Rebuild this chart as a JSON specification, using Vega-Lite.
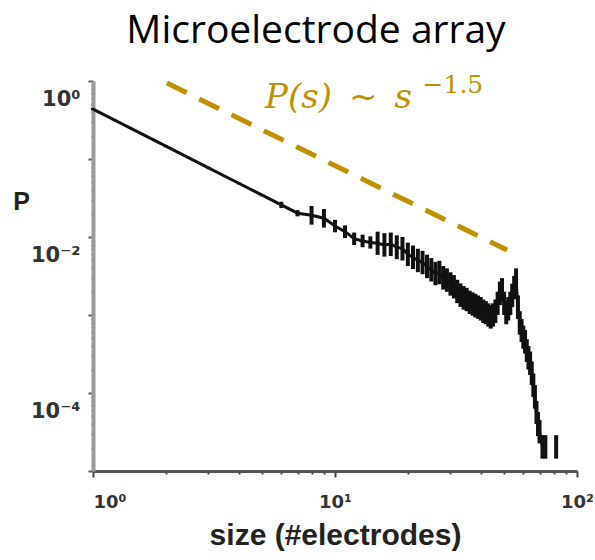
{
  "$schema": "https://vega.github.io/schema/vega-lite/v6.json",
  "width": 484,
  "height": 390,
  "autosize": "none",
  "padding": {"left": 93, "top": 81, "right": 18, "bottom": 89},
  "background": "white",
  "title": {
    "text": "Microelectrode array",
    "font": "Open Sans",
    "fontSize": 39,
    "fontWeight": "normal",
    "color": "#000000",
    "offset": 22,
    "dx": -19
  },
  "config": {
    "view": {"stroke": null}
  },
  "datasets": {
    "pdist": [
      {"s": 1, "P": 0.437, "lo": 0.422, "hi": 0.452},
      {"s": 2, "P": 0.146, "lo": 0.141, "hi": 0.151},
      {"s": 3, "P": 0.0769, "lo": 0.0743, "hi": 0.0796},
      {"s": 4, "P": 0.0489, "lo": 0.0472, "hi": 0.0506},
      {"s": 5, "P": 0.0344, "lo": 0.0332, "hi": 0.0356},
      {"s": 6, "P": 0.0258, "lo": 0.0235, "hi": 0.0283},
      {"s": 7, "P": 0.0202, "lo": 0.0184, "hi": 0.0221},
      {"s": 8, "P": 0.019, "lo": 0.0144, "hi": 0.025},
      {"s": 9, "P": 0.0174, "lo": 0.0132, "hi": 0.0229},
      {"s": 10, "P": 0.0138, "lo": 0.0115, "hi": 0.0166},
      {"s": 11, "P": 0.0117, "lo": 0.0097, "hi": 0.0141},
      {"s": 12, "P": 0.0095, "lo": 0.0079, "hi": 0.0114},
      {"s": 13, "P": 0.0089, "lo": 0.0074, "hi": 0.0107},
      {"s": 14, "P": 0.0085, "lo": 0.0071, "hi": 0.0102},
      {"s": 15, "P": 0.0083, "lo": 0.0059, "hi": 0.0117},
      {"s": 16, "P": 0.0079, "lo": 0.0056, "hi": 0.0112},
      {"s": 17, "P": 0.0081, "lo": 0.0057, "hi": 0.0114},
      {"s": 18, "P": 0.0074, "lo": 0.0052, "hi": 0.0105},
      {"s": 19, "P": 0.0071, "lo": 0.005, "hi": 0.01},
      {"s": 20, "P": 0.006, "lo": 0.00424, "hi": 0.00848},
      {"s": 21, "P": 0.0055, "lo": 0.00389, "hi": 0.00777},
      {"s": 22, "P": 0.005, "lo": 0.00354, "hi": 0.00707},
      {"s": 23, "P": 0.0047, "lo": 0.00333, "hi": 0.00664},
      {"s": 24, "P": 0.0042, "lo": 0.00297, "hi": 0.00593},
      {"s": 25, "P": 0.0038, "lo": 0.00269, "hi": 0.00537},
      {"s": 26, "P": 0.0034, "lo": 0.00241, "hi": 0.0048},
      {"s": 27, "P": 0.0035, "lo": 0.00248, "hi": 0.00495},
      {"s": 28, "P": 0.003, "lo": 0.00212, "hi": 0.00424},
      {"s": 29, "P": 0.0028, "lo": 0.00198, "hi": 0.00396},
      {"s": 30, "P": 0.0025, "lo": 0.00177, "hi": 0.00353},
      {"s": 31, "P": 0.0023, "lo": 0.00163, "hi": 0.00325},
      {"s": 32, "P": 0.002, "lo": 0.00142, "hi": 0.00283},
      {"s": 33, "P": 0.0018, "lo": 0.00127, "hi": 0.00254},
      {"s": 34, "P": 0.00166, "lo": 0.00117, "hi": 0.00235},
      {"s": 35, "P": 0.00158, "lo": 0.00112, "hi": 0.00223},
      {"s": 36, "P": 0.00145, "lo": 0.00103, "hi": 0.00205},
      {"s": 37, "P": 0.00138, "lo": 0.00098, "hi": 0.00195},
      {"s": 38, "P": 0.00132, "lo": 0.00093, "hi": 0.00187},
      {"s": 39, "P": 0.00126, "lo": 0.00089, "hi": 0.00178},
      {"s": 40, "P": 0.0012, "lo": 0.00085, "hi": 0.0017},
      {"s": 41, "P": 0.00112, "lo": 0.00079, "hi": 0.00158},
      {"s": 42, "P": 0.00107, "lo": 0.00076, "hi": 0.00151},
      {"s": 43, "P": 0.001, "lo": 0.00071, "hi": 0.00141},
      {"s": 44, "P": 0.00095, "lo": 0.00067, "hi": 0.00134},
      {"s": 45, "P": 0.001, "lo": 0.00071, "hi": 0.00141},
      {"s": 46, "P": 0.00112, "lo": 0.00079, "hi": 0.00158},
      {"s": 47, "P": 0.00141, "lo": 0.001, "hi": 0.00199},
      {"s": 48, "P": 0.0019, "lo": 0.00134, "hi": 0.00268},
      {"s": 49, "P": 0.0021, "lo": 0.00149, "hi": 0.00297},
      {"s": 50, "P": 0.00141, "lo": 0.001, "hi": 0.00199},
      {"s": 51, "P": 0.00107, "lo": 0.00076, "hi": 0.00151},
      {"s": 52, "P": 0.0012, "lo": 0.00085, "hi": 0.0017},
      {"s": 53, "P": 0.00141, "lo": 0.001, "hi": 0.00199},
      {"s": 54, "P": 0.00178, "lo": 0.00126, "hi": 0.00252},
      {"s": 55, "P": 0.00224, "lo": 0.00159, "hi": 0.00317},
      {"s": 56, "P": 0.0028, "lo": 0.00198, "hi": 0.00396},
      {"s": 57, "P": 0.00126, "lo": 0.00089, "hi": 0.00178},
      {"s": 58, "P": 0.00079, "lo": 0.00056, "hi": 0.00112},
      {"s": 59, "P": 0.00063, "lo": 0.00045, "hi": 0.00089},
      {"s": 60, "P": 0.00052, "lo": 0.00037, "hi": 0.00073},
      {"s": 61, "P": 0.00045, "lo": 0.00032, "hi": 0.00064},
      {"s": 62, "P": 0.00035, "lo": 0.00025, "hi": 0.00049},
      {"s": 63, "P": 0.00028, "lo": 0.0002, "hi": 0.0004},
      {"s": 64, "P": 0.00024, "lo": 0.00017, "hi": 0.00034},
      {"s": 65, "P": 0.00018, "lo": 0.000127, "hi": 0.000254},
      {"s": 66, "P": 0.000126, "lo": 0.000089, "hi": 0.000178},
      {"s": 67, "P": 0.000089, "lo": 0.000063, "hi": 0.000126},
      {"s": 68, "P": 0.000056, "lo": 0.00004, "hi": 0.000079},
      {"s": 69, "P": 0.00004, "lo": 0.000028, "hi": 0.000057},
      {"s": 70, "P": 0.000032, "lo": 0.0000226, "hi": 0.0000452},
      {"s": 72, "P": 0.0000204, "lo": 0.0000144, "hi": 0.0000288},
      {"s": 74, "P": 0.0000204, "lo": 0.0000144, "hi": 0.0000288},
      {"s": 82, "P": 0.0000204, "lo": 0.0000144, "hi": 0.0000288}
    ],
    "guide": [
      {"s": 2.02, "P": 0.94},
      {"s": 51.4, "P": 0.0068}
    ],
    "note": [
      {"label": "P(s)\u2002~\u2002s", "s": 5.14, "P": 0.45},
      {"label": "−1.5", "s": 23.0, "P": 0.70}
    ]
  },
  "layer": [
    {
      "data": {"name": "pdist"},
      "mark": {"type": "rule", "color": "#111111", "strokeWidth": 4},
      "encoding": {
        "x": {"field": "s", "type": "quantitative", "scale": {"type": "log", "domain": [1, 100]}, "title": "size (#electrodes)"},
        "y": {"field": "lo", "type": "quantitative", "scale": {"type": "log", "domain": [0.00001, 1]}, "title": "P"},
        "y2": {"field": "hi"}
      }
    },
    {
      "data": {"name": "pdist"},
      "transform": [{"filter": "datum.s <= 74"}],
      "mark": {"type": "line", "color": "#111111", "strokeWidth": 3},
      "encoding": {
        "x": {
          "field": "s", "type": "quantitative",
          "scale": {"type": "log", "domain": [1, 100]},
          "title": "size (#electrodes)",
          "axis": {
            "values": [1, 2, 3, 4, 5, 6, 7, 8, 9, 10, 20, 30, 40, 50, 60, 70, 80, 90, 100],
            "labelExpr": "datum.value == 1 ? '10⁰' : datum.value == 10 ? '10¹' : datum.value == 100 ? '10²' : ''",
            "labelOverlap": false,
            "labelBound": false,
            "labelFlush": false,
            "labelAlign": {"condition": {"test": "datum.value == 1", "value": "left"}, "value": "center"},
            "labelFont": "DejaVu Sans",
            "labelFontSize": 18,
            "labelFontWeight": "bold",
            "labelColor": "#333333",
            "labelBaseline": "alphabetic",
            "labelPadding": 30,
            "grid": false,
            "domainColor": "#555555",
            "domainWidth": 3,
            "tickColor": "#444444",
            "tickWidth": 2,
            "tickSize": {"condition": {"test": "abs(log(datum.value)/LN10 - round(log(datum.value)/LN10)) < 0.001", "value": 6}, "value": 3},
            "title": "size (#electrodes)",
            "titleFont": "Liberation Sans",
            "titleFontSize": 30,
            "titleFontWeight": "bold",
            "titleColor": "#222222",
            "titleBaseline": "alphabetic",
            "titleY": 73
          }
        },
        "y": {
          "field": "P", "type": "quantitative",
          "scale": {"type": "log", "domain": [0.00001, 1]},
          "title": "P",
          "axis": {
            "values": [1e-5, 2e-5, 3e-5, 4e-5, 5e-5, 6e-5, 7e-5, 8e-5, 9e-5, 1e-4, 2e-4, 3e-4, 4e-4, 5e-4, 6e-4, 7e-4, 8e-4, 9e-4, 0.001, 0.002, 0.003, 0.004, 0.005, 0.006, 0.007, 0.008, 0.009, 0.01, 0.02, 0.03, 0.04, 0.05, 0.06, 0.07, 0.08, 0.09, 0.1, 0.2, 0.3, 0.4, 0.5, 0.6, 0.7, 0.8, 0.9, 1],
            "labelExpr": "datum.value > 0.99 ? '10⁰' : abs(datum.value - 0.01) < 1e-9 ? '10⁻²' : abs(datum.value - 0.0001) < 1e-12 ? '10⁻⁴' : ''",
            "labelOverlap": false,
            "labelBound": false,
            "labelFlush": false,
            "labelFont": "DejaVu Sans",
            "labelFontSize": 21,
            "labelFontWeight": "bold",
            "labelColor": "#333333",
            "labelAlign": "right",
            "labelBaseline": "alphabetic",
            "labelOffset": 24,
            "labelPadding": 8,
            "grid": false,
            "domainColor": "#9a9a9a",
            "domainWidth": 4,
            "tickColor": "#555555",
            "tickWidth": 2,
            "tickSize": {"condition": {"test": "abs(log(datum.value)/LN10 - round(log(datum.value)/LN10)) < 0.001", "value": 5}, "value": 2},
            "title": "P",
            "titleFont": "Liberation Sans",
            "titleFontSize": 25,
            "titleFontWeight": "bold",
            "titleColor": "#222222",
            "titleAngle": 0,
            "titleAlign": "center",
            "titleBaseline": "middle",
            "titleX": -72,
            "titleY": 120
          }
        }
      }
    },
    {
      "data": {"name": "guide"},
      "mark": {"type": "line", "color": "#BF9000", "strokeWidth": 5, "strokeDash": [22, 14], "strokeCap": "butt"},
      "encoding": {
        "x": {"field": "s", "type": "quantitative", "scale": {"type": "log", "domain": [1, 100]}, "title": "size (#electrodes)"},
        "y": {"field": "P", "type": "quantitative", "scale": {"type": "log", "domain": [0.00001, 1]}, "title": "P"}
      }
    },
    {
      "data": {"name": "note"},
      "transform": [{"filter": "datum.s < 10"}],
      "mark": {"type": "text", "font": "DejaVu Serif", "fontStyle": "italic", "fontSize": 34, "color": "#BF9000", "align": "left", "baseline": "alphabetic"},
      "encoding": {
        "x": {"field": "s", "type": "quantitative", "scale": {"type": "log", "domain": [1, 100]}, "title": "size (#electrodes)"},
        "y": {"field": "P", "type": "quantitative", "scale": {"type": "log", "domain": [0.00001, 1]}, "title": "P"},
        "text": {"field": "label"}
      }
    },
    {
      "data": {"name": "note"},
      "transform": [{"filter": "datum.s > 10"}],
      "mark": {"type": "text", "font": "DejaVu Serif", "fontSize": 25, "color": "#BF9000", "align": "left", "baseline": "alphabetic"},
      "encoding": {
        "x": {"field": "s", "type": "quantitative", "scale": {"type": "log", "domain": [1, 100]}, "title": "size (#electrodes)"},
        "y": {"field": "P", "type": "quantitative", "scale": {"type": "log", "domain": [0.00001, 1]}, "title": "P"},
        "text": {"field": "label"}
      }
    }
  ]
}
